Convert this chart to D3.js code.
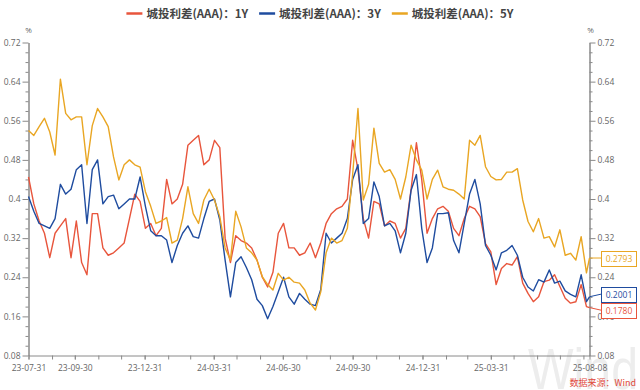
<!DOCTYPE html>
<html><head><meta charset="utf-8">
<script src="https://cdn.jsdelivr.net/npm/d3@7"></script>
<style>body{margin:0;background:#fff}svg{display:block}</style>
</head><body><svg id="c" width="640" height="390"></svg>
<script>
// ---- data ----
const seriesNames = ["城投利差(AAA)：1Y", "城投利差(AAA)：3Y", "城投利差(AAA)：5Y"];
const seriesColors = ["#e8553c", "#1f4c9f", "#e9a623"];
const startDate = "2023-07-31";
const endDate = "2025-08-08";
const weeklyCount = 106; // weekly observations starting at startDate, last point at endDate
const spread1Y = [0.445,0.39,0.355,0.33,0.28,0.33,0.345,0.36,0.28,0.355,
 0.27,0.245,0.37,0.37,0.30,0.285,0.29,0.30,0.31,0.36,
 0.41,0.395,0.34,0.35,0.325,0.34,0.44,0.39,0.40,0.43,
 0.51,0.52,0.53,0.47,0.48,0.52,0.505,0.32,0.27,0.325,
 0.315,0.31,0.30,0.275,0.24,0.22,0.25,0.33,0.35,0.30,
 0.30,0.285,0.29,0.31,0.28,0.31,0.35,0.37,0.38,0.385,
 0.40,0.52,0.46,0.36,0.32,0.395,0.39,0.345,0.355,0.35,
 0.32,0.34,0.42,0.515,0.44,0.33,0.36,0.38,0.385,0.375,
 0.34,0.325,0.36,0.385,0.38,0.364,0.309,0.292,0.225,0.258,
 0.268,0.265,0.282,0.228,0.207,0.19,0.20,0.231,0.234,0.245,
 0.221,0.197,0.187,0.19,0.225,0.18,0.1780];
const spread3Y = [0.405,0.375,0.35,0.345,0.34,0.36,0.43,0.41,0.42,0.46,
 0.47,0.35,0.46,0.48,0.39,0.405,0.408,0.38,0.39,0.40,
 0.40,0.445,0.385,0.335,0.325,0.325,0.316,0.27,0.305,0.33,
 0.345,0.323,0.32,0.36,0.395,0.40,0.357,0.275,0.20,0.27,
 0.282,0.26,0.235,0.195,0.182,0.155,0.18,0.21,0.24,0.20,
 0.185,0.207,0.195,0.185,0.182,0.215,0.33,0.31,0.32,0.33,
 0.36,0.44,0.47,0.35,0.36,0.435,0.405,0.345,0.35,0.335,
 0.29,0.33,0.418,0.45,0.34,0.27,0.30,0.37,0.37,0.372,
 0.315,0.29,0.35,0.41,0.44,0.39,0.305,0.285,0.255,0.29,
 0.295,0.305,0.285,0.24,0.22,0.212,0.235,0.23,0.255,0.228,
 0.232,0.212,0.205,0.20,0.245,0.19,0.2001];
const spread5Y = [0.54,0.53,0.548,0.565,0.537,0.49,0.645,0.575,0.562,0.568,
 0.568,0.47,0.55,0.585,0.568,0.548,0.486,0.439,0.47,0.48,
 0.47,0.465,0.415,0.385,0.35,0.355,0.362,0.31,0.316,0.36,
 0.425,0.37,0.35,0.398,0.42,0.398,0.364,0.30,0.275,0.375,
 0.343,0.30,0.29,0.275,0.241,0.225,0.214,0.248,0.234,0.24,
 0.23,0.228,0.214,0.187,0.173,0.21,0.29,0.32,0.31,0.315,
 0.34,0.45,0.585,0.398,0.43,0.545,0.473,0.455,0.46,0.44,
 0.40,0.445,0.51,0.48,0.459,0.40,0.44,0.459,0.425,0.42,
 0.418,0.41,0.40,0.52,0.51,0.53,0.466,0.446,0.439,0.44,
 0.455,0.455,0.462,0.398,0.354,0.333,0.36,0.32,0.323,0.302,
 0.337,0.285,0.289,0.275,0.323,0.249,0.2793];
const lastLabels = ["0.1780", "0.2001", "0.2793"];
const yTickValues = [0.08, 0.16, 0.24, 0.32, 0.40, 0.48, 0.56, 0.64, 0.72];
const yTickLabels = ["0.08", "0.16", "0.24", "0.32", "0.4", "0.48", "0.56", "0.64", "0.72"];
const xTickLabels = ["23-07-31", "23-09-30", "23-12-31", "24-03-31", "24-06-30", "24-09-30", "24-12-31", "25-03-31", "25-08-08"];
const unitLabel = "%";
const sourceText = "数据来源：Wind";
const watermarkText = "Wind";

// ---- build ----
const parseISO = d3.timeParse("%Y-%m-%d");
const parseShort = d3.timeParse("%y-%m-%d");
const d0 = parseISO(startDate), d1 = parseISO(endDate);
const dates = d3.range(weeklyCount).map(i => d3.timeDay.offset(d0, 7 * i)).concat([d1]);
const allSeries = [spread1Y, spread3Y, spread5Y];

const svg = d3.select("#c");
const L = 28.5, R = 589.5, T = 42.5, B = 355.5;
const x = d3.scaleTime().domain([d0, d1]).range([L, R]);
const y = d3.scaleLinear().domain([0.08, 0.72]).range([B, T]);

const axisColor = "#8a8a8a", textColor = "#666";
const tickFont = "'Open Sans', 'Liberation Sans', sans-serif";

// watermark
svg.append("text").attr("x", 528).attr("y", 389).attr("font-family", "'Liberation Sans', Arial, sans-serif")
  .attr("font-size", 58).attr("fill", "#ededed")
  .attr("textLength", 110).attr("lengthAdjust", "spacingAndGlyphs").text(watermarkText);

// month-end minor ticks on x
const monthEnds = d3.timeMonth.range(d3.timeMonth.offset(d3.timeMonth.floor(d0), 1), d1)
  .map(d => d3.timeDay.offset(d, -1)).filter(d => d >= d0 && d <= d1);
const xLabelDates = xTickLabels.map(s => parseShort(s));

const gx = svg.append("g").attr("transform", `translate(0,${B})`);
gx.call(d3.axisBottom(x).tickValues(monthEnds).tickSize(4).tickSizeOuter(0).tickFormat(""));
const gx2 = svg.append("g").attr("transform", `translate(0,${B})`);
gx2.call(d3.axisBottom(x).tickValues(xLabelDates).tickSize(4).tickSizeOuter(0).tickPadding(5)
  .tickFormat((d, i) => xTickLabels[i]));
gx2.select(".domain").remove();

// y axes
const minorY = d3.range(4, 37).map(k => k / 50).filter(v => !yTickValues.some(t => Math.abs(t - v) < 1e-9));
function yAxis(sel, side) {
  const major = (side === "left" ? d3.axisLeft(y) : d3.axisRight(y))
    .tickValues(yTickValues).tickSize(6).tickSizeOuter(0).tickPadding(2)
    .tickFormat((d, i) => yTickLabels[i]);
  const minor = (side === "left" ? d3.axisLeft(y) : d3.axisRight(y))
    .tickValues(minorY).tickSize(3).tickSizeOuter(0).tickFormat("");
  sel.append("g").call(minor);
  sel.append("g").call(major);
}
const gyl = svg.append("g").attr("transform", `translate(${L},0)`); yAxis(gyl, "left");
const gyr = svg.append("g").attr("transform", `translate(${R},0)`); yAxis(gyr, "right");

svg.selectAll(".domain, .tick line").attr("stroke", axisColor);
svg.selectAll(".tick text").attr("fill", textColor).attr("font-family", tickFont).attr("font-size", 8.5);

svg.append("text").attr("x", L).attr("y", 33).attr("text-anchor", "middle").attr("font-family", tickFont)
  .attr("font-size", 8).attr("fill", textColor).text(unitLabel);
svg.append("text").attr("x", R + 1).attr("y", 33).attr("text-anchor", "middle").attr("font-family", tickFont)
  .attr("font-size", 8).attr("fill", textColor).text(unitLabel);

// lines
const line = d3.line().x((d, i) => x(dates[i])).y(d => y(d));
allSeries.forEach((s, k) => {
  svg.append("path").datum(s).attr("fill", "none").attr("stroke", seriesColors[k])
    .attr("stroke-width", 1.4).attr("stroke-linejoin", "round").attr("d", line);
});

// end labels
const ends = allSeries.map((s, k) => ({ k, v: s[s.length - 1], yv: y(s[s.length - 1]) }));
const sorted = ends.slice().sort((a, b) => a.yv - b.yv);
sorted.forEach(e => e.by = e.yv);
for (let it = 0; it < 20; it++) {
  for (let j = 1; j < sorted.length; j++) {
    const a = sorted[j - 1], b = sorted[j], gap = 16 - (b.by - a.by);
    if (gap > 0) { a.by -= gap / 2; b.by += gap / 2; }
  }
}
ends.forEach(e => {
  const c = seriesColors[e.k];
  svg.append("path").attr("fill", "none").attr("stroke", c).attr("stroke-width", 1)
    .attr("d", `M${R},${e.yv}L${601},${e.by}`);
  svg.append("rect").attr("x", 601.5).attr("y", Math.round(e.by - 7.5) + 0.5).attr("width", 35).attr("height", 15)
    .attr("fill", "#fff").attr("stroke", c).attr("stroke-width", 1);
  svg.append("text").attr("x", 619).attr("y", Math.round(e.by) + 3.5).attr("text-anchor", "middle")
    .attr("font-family", tickFont).attr("font-size", 8.5).attr("fill", c).text(lastLabels[e.k]);
});

// legend
const lg = svg.append("g");
let lx = 0;
seriesNames.forEach((n, k) => {
  const g = lg.append("g").attr("transform", `translate(${lx},0)`);
  g.append("line").attr("x1", 0).attr("x2", 16).attr("y1", 13.5).attr("y2", 13.5)
    .attr("stroke", seriesColors[k]).attr("stroke-width", 2.5);
  const t = g.append("text").attr("x", 20).attr("y", 17.5).attr("font-family", "'Noto Sans CJK SC', sans-serif")
    .attr("font-size", 11.5).attr("font-weight", "bold").attr("fill", "#444").text(n);
  lx += 20 + t.node().getComputedTextLength() + 11;
});
const lw = lx - 11;
lg.attr("transform", `translate(${(320 - lw / 2).toFixed(1)},0)`);

// source
svg.append("text").attr("x", 636).attr("y", 386).attr("text-anchor", "end")
  .attr("font-family", "'Noto Sans CJK SC', sans-serif").attr("font-size", 9).attr("fill", "#e0483b").text(sourceText);
</script></body></html>
